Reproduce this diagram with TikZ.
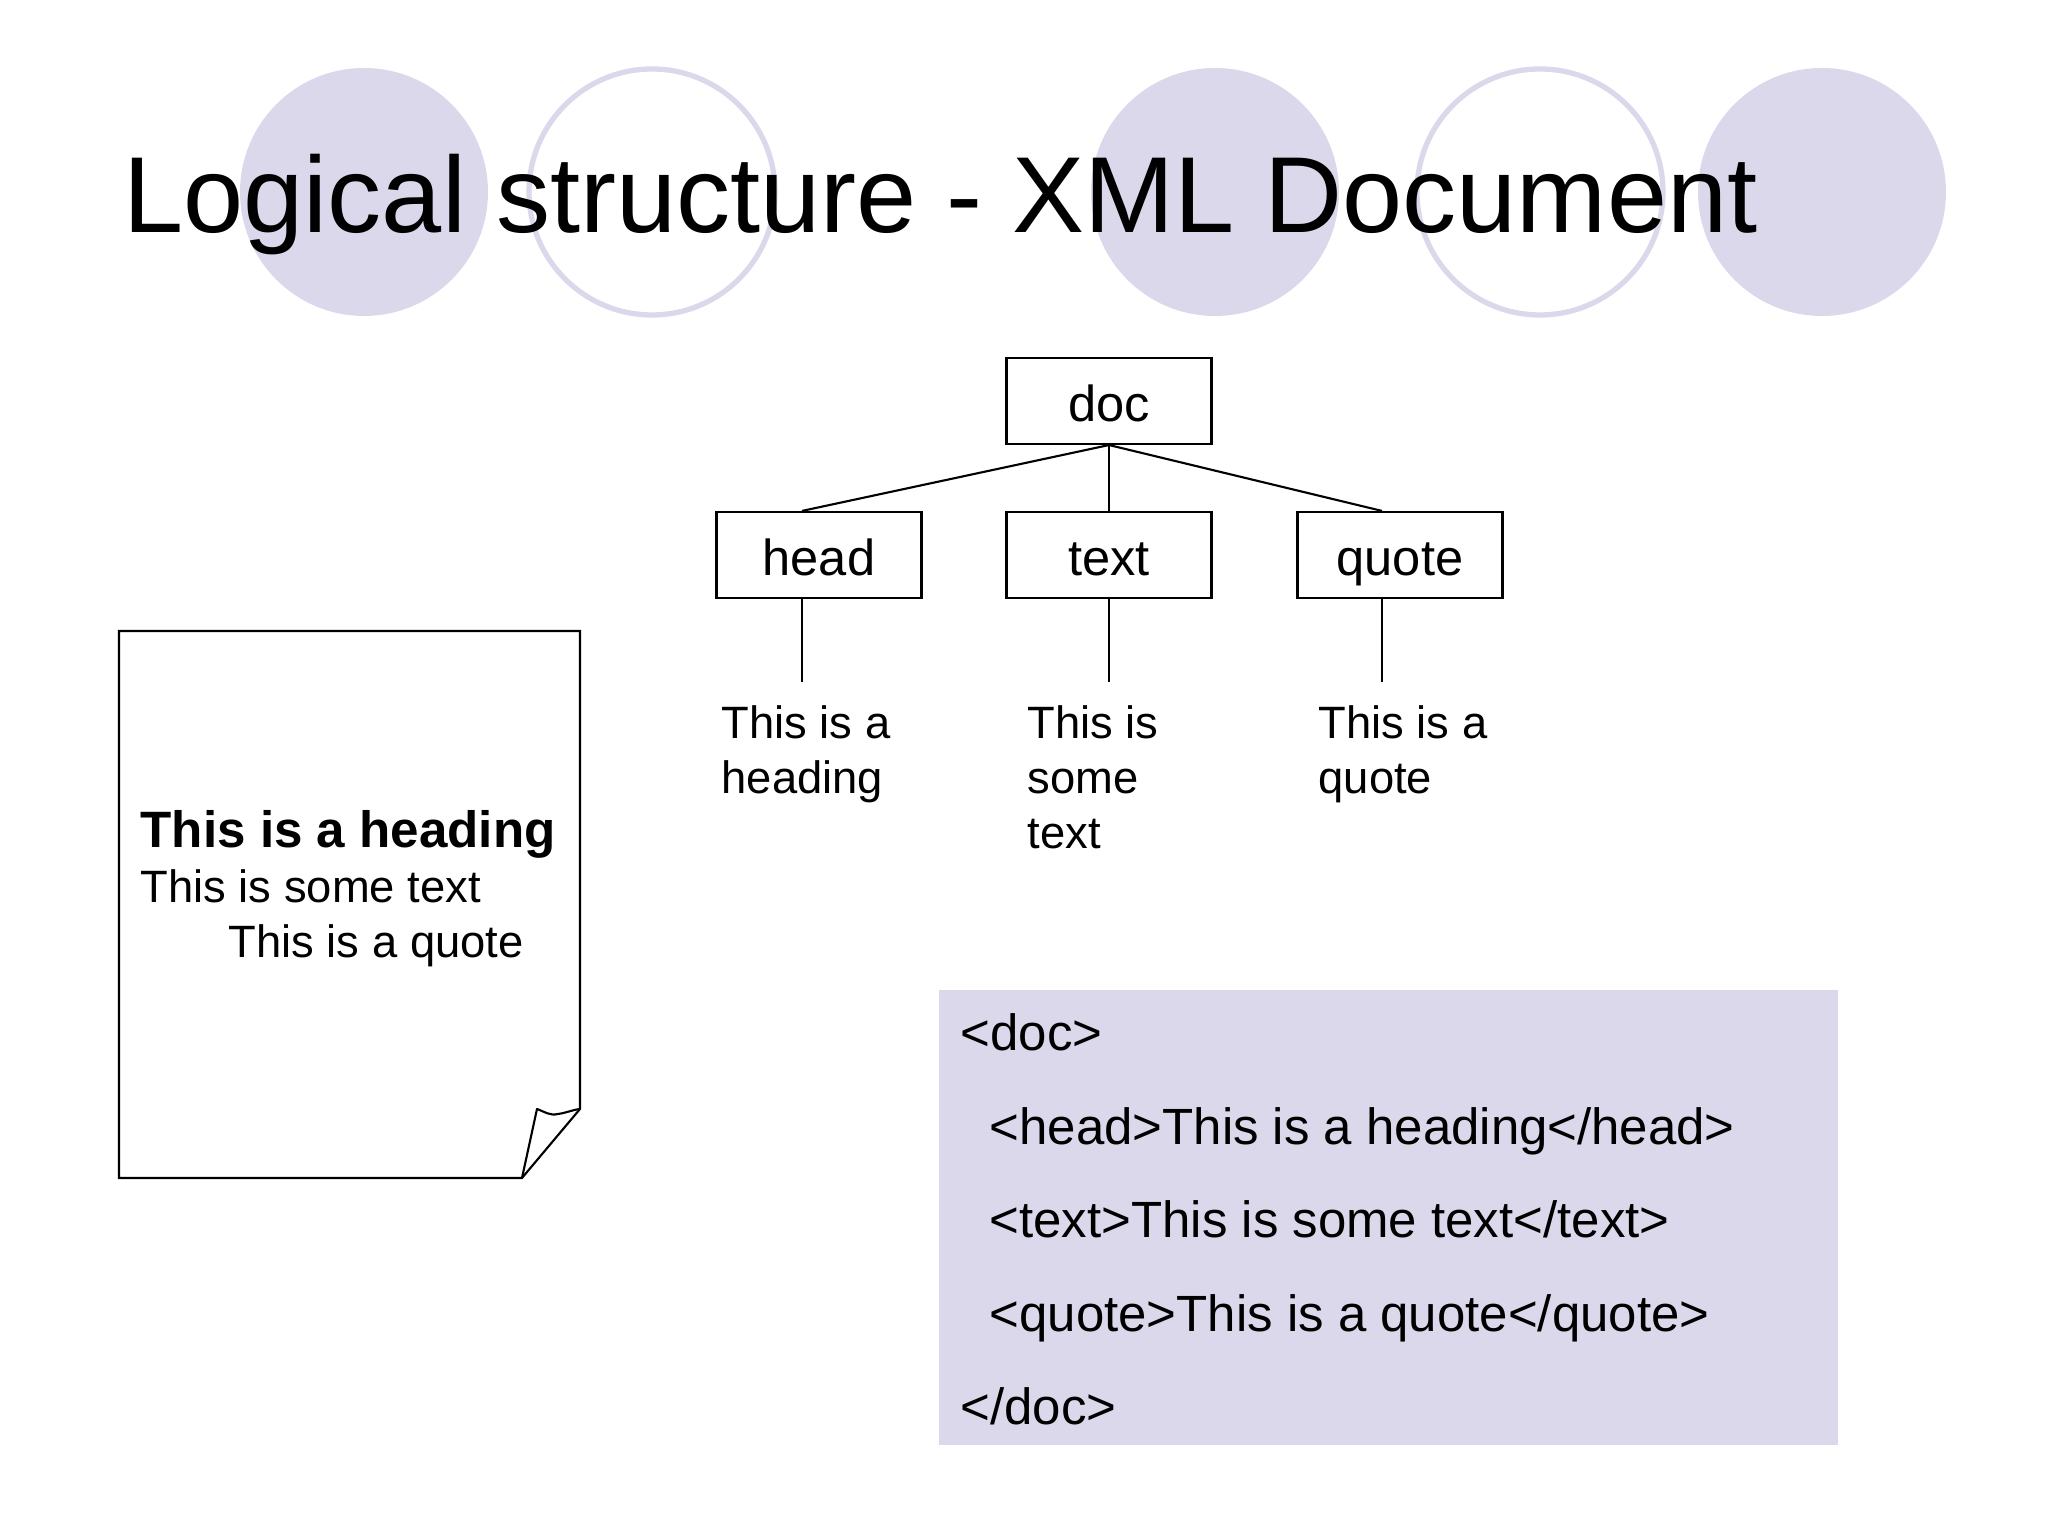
\documentclass[tikz,border=0pt]{standalone}
\usepackage{fontspec}
\setmainfont{Liberation Sans}
\usepackage{tikz}
\definecolor{lilac}{HTML}{DAD8EA}
\tikzset{
  solidcirc/.style={circle, fill=lilac, minimum size=2.48cm, inner sep=0pt},
  opencirc/.style={circle, draw=lilac, line width=1.5pt, fill=white, minimum size=2.46cm, inner sep=0pt},
  treebox/.style={draw, line width=0.6pt, minimum width=2.05cm, minimum height=0.86cm, inner sep=0pt, text height=0.42cm, text depth=0cm, font=\fontsize{14.4}{17}\selectfont},
  treeline/.style={line width=0.6pt},
  leaftext/.style={anchor=north west, align=left, inner sep=0pt, font=\fontsize{12.9}{15.6}\selectfont},
  pagetext/.style={anchor=west, inner sep=0pt, text height=0.36cm, text depth=0.12cm, font=\fontsize{12.9}{15.6}\selectfont},
  codetext/.style={anchor=west, inner sep=0pt, text height=0.38cm, text depth=0.12cm, font=\fontsize{14.5}{17}\selectfont}
}
\begin{document}
\begin{tikzpicture}
      \useasboundingbox (0,0) rectangle (20.48,15.36);
      \node[solidcirc] at (3.64,13.44) (circa) {};
      \node[opencirc] at (6.52,13.44) (circb) {};
      \node[solidcirc] at (12.15,13.44) (circc) {};
      \node[opencirc] at (15.40,13.44) (circd) {};
      \node[solidcirc] at (18.22,13.44) (circe) {};
      \node[anchor=west, inner sep=0pt, font=\fontsize{30.75}{36}\selectfont] at (1.23,13.31) (title) {Logical structure - XML Document};
      \node[treebox] at (11.09,11.35) (doc) {doc};
      \node[treebox] at (8.19,9.81) (head) {head};
      \node[treebox] at (11.09,9.81) (text) {text};
      \node[treebox] at (14.00,9.81) (quote) {quote};
      \coordinate (headend) at (8.02,8.54);
      \coordinate (textend) at (11.09,8.54);
      \coordinate (quoteend) at (13.82,8.54);
      \draw[treeline] (doc.south) -- (headend |- head.north);
      \draw[treeline] (doc.south) -- (text.north);
      \draw[treeline] (doc.south) -- (quoteend |- quote.north);
      \draw[treeline] (headend |- head.south) -- (headend);
      \draw[treeline] (text.south) -- (textend);
      \draw[treeline] (quoteend |- quote.south) -- (quoteend);
      \node[leaftext] at (7.21,8.31) (headleaf) {This is a\\heading};
      \node[leaftext] at (10.27,8.31) (textleaf) {This is\\some\\text};
      \node[leaftext] at (13.18,8.31) (quoteleaf) {This is a\\quote};
      \draw[treeline] (1.19,9.05) -- (5.80,9.05) -- (5.80,4.27) -- (5.22,3.58) -- (1.19,3.58) -- cycle;
      \draw[treeline, line join=round] (5.22,3.58) -- (5.37,4.27) .. controls (5.45,4.24) and (5.50,4.20) .. (5.58,4.22) .. controls (5.66,4.23) and (5.72,4.26) .. (5.80,4.27);
      \node[pagetext, font=\fontsize{14.55}{17}\selectfont\bfseries] at (1.40,7.00) (pagehead) {This is a heading};
      \node[pagetext] at (1.40,6.45) (pagebody) {This is some text};
      \node[pagetext] at (2.28,5.90) (pagequote) {This is a quote};
      \fill[lilac] (9.39,0.91) rectangle (18.38,5.46);
      \node[codetext] at (9.60,4.98) (codea) {<doc>};
      \node[codetext] at (9.89,4.04) (codeb) {<head>This is a heading</head>};
      \node[codetext] at (9.89,3.11) (codec) {<text>This is some text</text>};
      \node[codetext] at (9.89,2.17) (coded) {<quote>This is a quote</quote>};
      \node[codetext] at (9.60,1.24) (codee) {</doc>};
      \end{tikzpicture}
\end{document}
